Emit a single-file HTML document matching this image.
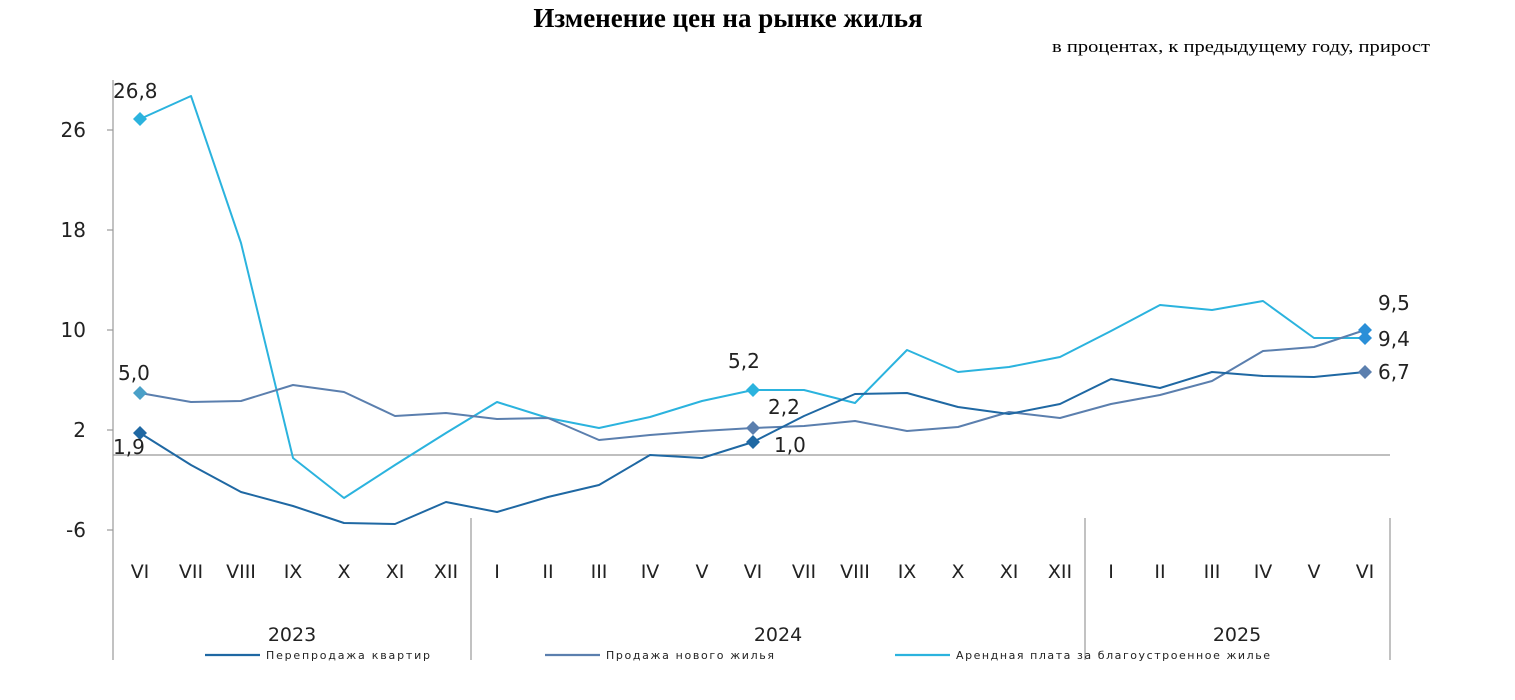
<!DOCTYPE html>
<html><head><meta charset="utf-8"><style>
body{margin:0;background:#fff;width:1515px;height:695px;overflow:hidden}
</style></head><body>
<svg width="1515" height="695" xmlns="http://www.w3.org/2000/svg" font-family="'DejaVu Sans','Liberation Sans',sans-serif">
<text x="728" y="27" text-anchor="middle" font-family="'Liberation Serif',serif" font-weight="bold" font-size="27">Изменение цен на рынке жилья</text>
<text x="1430" y="52" text-anchor="end" font-family="'Liberation Serif',serif" font-size="17" textLength="378" lengthAdjust="spacingAndGlyphs">в процентах, к предыдущему году, прирост</text>
<g stroke="#999" stroke-width="1.2">
<line x1="113" y1="80" x2="113" y2="660"/>
<line x1="113" y1="455" x2="1390" y2="455"/>
<line x1="107" y1="130" x2="113" y2="130"/><line x1="107" y1="230" x2="113" y2="230"/>
<line x1="107" y1="330" x2="113" y2="330"/><line x1="107" y1="430" x2="113" y2="430"/>
<line x1="107" y1="530" x2="113" y2="530"/>
<line x1="471" y1="518" x2="471" y2="660"/><line x1="1085" y1="518" x2="1085" y2="660"/><line x1="1390" y1="518" x2="1390" y2="660"/>
</g>
<g font-size="20" fill="#222" text-anchor="end">
<text x="86" y="137">26</text><text x="86" y="237">18</text><text x="86" y="337">10</text><text x="86" y="437">2</text><text x="86" y="537">-6</text>
</g>
<g font-size="19" fill="#222" text-anchor="middle">
<text x="140" y="578">VI</text><text x="191" y="578">VII</text><text x="241" y="578">VIII</text><text x="293" y="578">IX</text><text x="344" y="578">X</text><text x="395" y="578">XI</text><text x="446" y="578">XII</text>
<text x="497" y="578">I</text><text x="548" y="578">II</text><text x="599" y="578">III</text><text x="650" y="578">IV</text><text x="702" y="578">V</text><text x="753" y="578">VI</text><text x="804" y="578">VII</text><text x="855" y="578">VIII</text><text x="907" y="578">IX</text><text x="958" y="578">X</text><text x="1009" y="578">XI</text><text x="1060" y="578">XII</text>
<text x="1111" y="578">I</text><text x="1160" y="578">II</text><text x="1212" y="578">III</text><text x="1263" y="578">IV</text><text x="1314" y="578">V</text><text x="1365" y="578">VI</text>
<text x="292" y="641">2023</text><text x="778" y="641">2024</text><text x="1237" y="641">2025</text>
</g>
<g fill="none" stroke-width="2" stroke-linejoin="round">
<polyline stroke="#2bb3de" points="140,119 191,96 241,243 293,458 344,498 395,465 446,433 497,402 548,418 599,428 650,417 702,401 753,390 804,390 855,403 907,350 958,372 1009,367 1060,357 1111,331 1160,305 1212,310 1263,301 1314,338 1365,338"/>
<polyline stroke="#5b7fae" points="140,393 191,402 241,401 293,385 344,392 395,416 446,413 497,419 548,418 599,440 650,435 702,431 753,428 804,426 855,421 907,431 958,427 1009,412 1060,418 1111,404 1160,395 1212,381 1263,351 1314,347 1365,330"/>
<polyline stroke="#1f68a3" points="140,433 191,465 241,492 293,506 344,523 395,524 446,502 497,512 548,497 599,485 650,455 702,458 753,442 804,416 855,394 907,393 958,407 1009,414 1060,404 1111,379 1160,388 1212,372 1263,376 1314,377 1365,372"/>
</g>
<g>
<path d="M140,112 l7,7 -7,7 -7,-7z" fill="#2bb3de"/>
<path d="M140,386 l7,7 -7,7 -7,-7z" fill="#4aa0c8"/>
<path d="M140,426 l7,7 -7,7 -7,-7z" fill="#1f68a3"/>
<path d="M753,383 l7,7 -7,7 -7,-7z" fill="#2bb3de"/>
<path d="M753,421 l7,7 -7,7 -7,-7z" fill="#5b7fae"/>
<path d="M753,435 l7,7 -7,7 -7,-7z" fill="#1f68a3"/>
<path d="M1365,323 l7,7 -7,7 -7,-7z" fill="#2a8fd8"/>
<path d="M1365,331 l7,7 -7,7 -7,-7z" fill="#2a8fd8"/>
<path d="M1365,365 l7,7 -7,7 -7,-7z" fill="#5b7fae"/>
</g>
<g font-size="20" fill="#222">
<text x="113" y="98">26,8</text><text x="118" y="380">5,0</text><text x="113" y="454">1,9</text>
<text x="728" y="368">5,2</text><text x="768" y="414">2,2</text><text x="774" y="452">1,0</text>
<text x="1378" y="310">9,5</text><text x="1378" y="346">9,4</text><text x="1378" y="379">6,7</text>
</g>
<g stroke-width="2.2">
<line x1="205" y1="655" x2="260" y2="655" stroke="#1f68a3"/>
<line x1="545" y1="655" x2="600" y2="655" stroke="#5b7fae"/>
<line x1="895" y1="655" x2="950" y2="655" stroke="#2bb3de"/>
</g>
<g font-size="11" fill="#222">
<text x="266" y="659" textLength="164" lengthAdjust="spacing">Перепродажа квартир</text><text x="606" y="659" textLength="168" lengthAdjust="spacing">Продажа нового жилья</text><text x="956" y="659" textLength="314" lengthAdjust="spacing">Арендная плата за благоустроенное жилье</text>
</g>
</svg>
</body></html>
